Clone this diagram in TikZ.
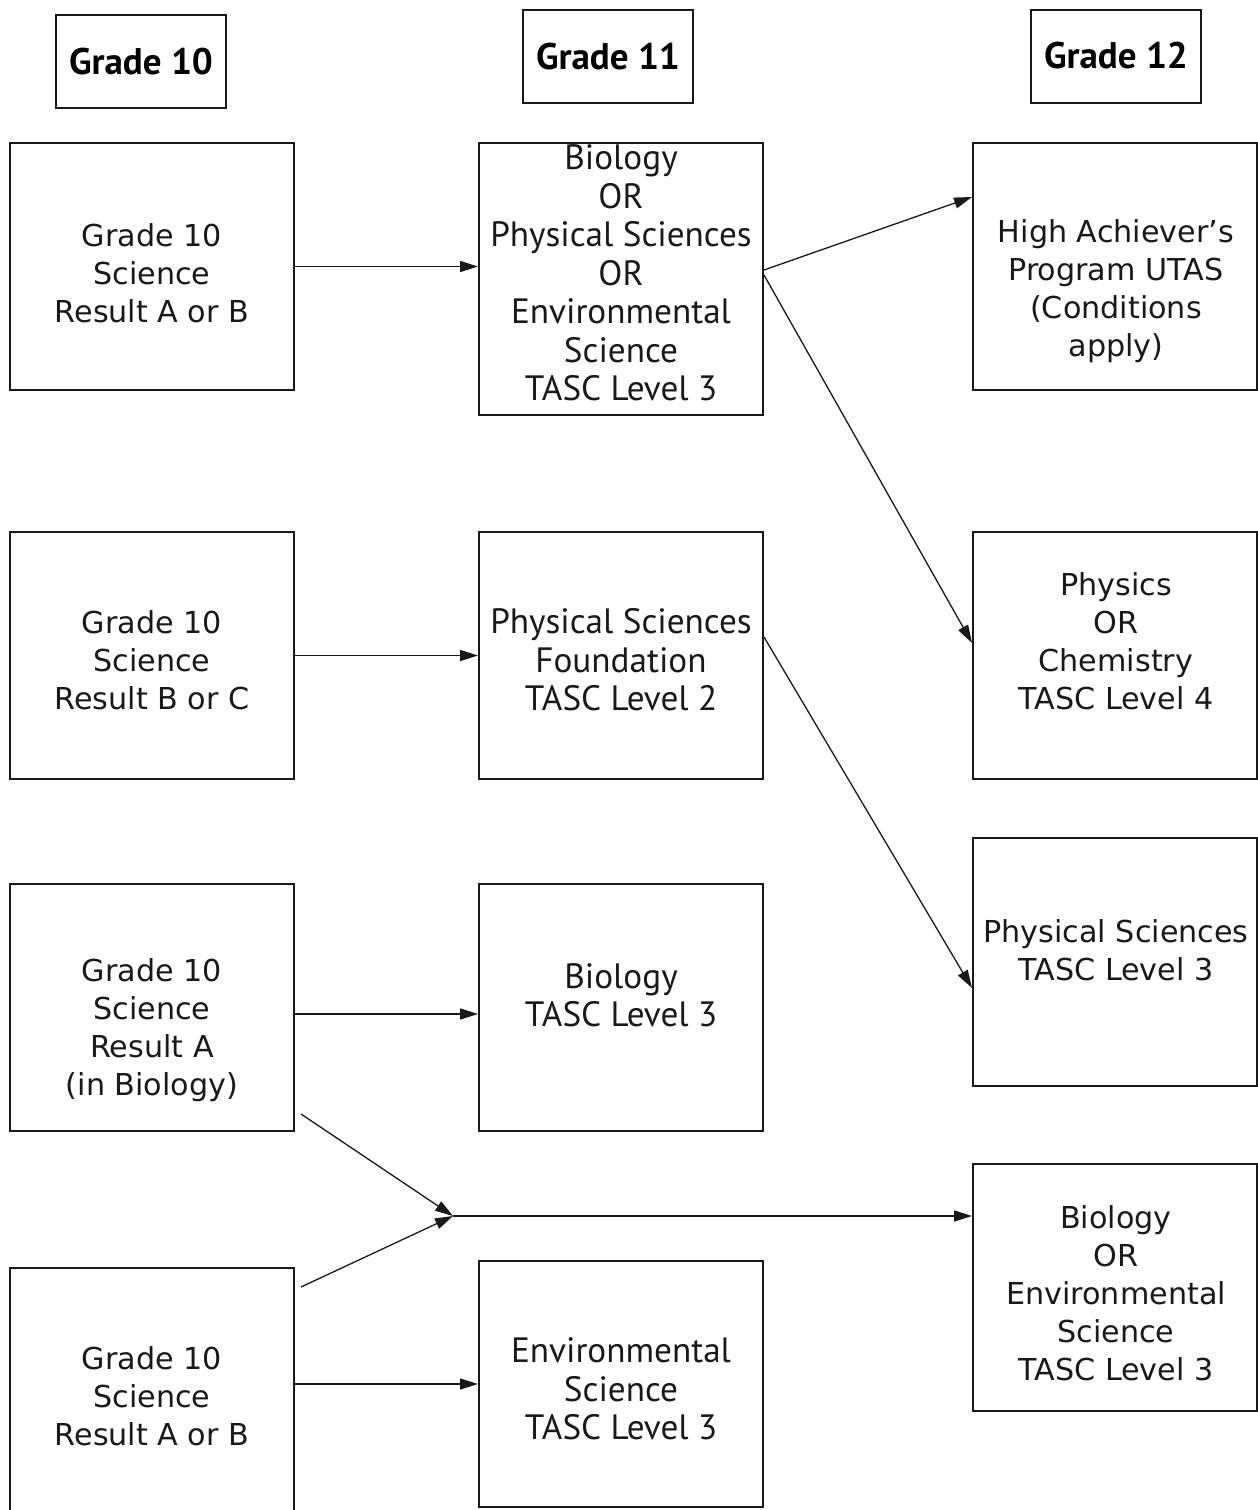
\documentclass[tikz,border=0pt]{standalone}
\usepackage{fontspec}
\setmainfont{DejaVu Sans}
\newfontfamily\condfont{PT Sans}
\usetikzlibrary{arrows.meta,calc}
\begin{document}
\begin{tikzpicture}[x=0.5pt,y=-0.5pt,
  box/.style={draw=black!90,line width=1pt,minimum width=142pt,minimum height=123.5pt,inner sep=0pt},
  hbox/.style={draw=black!90,line width=1pt,minimum width=85pt,minimum height=46.5pt,inner sep=0pt,
     font=\condfont\bfseries\fontsize{18.5}{22}\selectfont},
  widetxt/.style={align=center,inner sep=0pt,font=\fontsize{15.1}{19}\selectfont,text=black!90},
  condtxt/.style={align=center,inner sep=0pt,font=\condfont\fontsize{17.6}{19.25}\selectfont,text=black!90},
  conn/.style={line width=0.8pt,draw=black!90,-{Triangle[length=9pt,width=5.5pt]}},
  diag/.style={line width=0.65pt,draw=black!90,-{Triangle[length=9pt,width=5.5pt]}}]
\useasboundingbox (0,0) rectangle (1258,1510);
% headers
\node[hbox] (h10) at (141,61.5) {Grade 10};
\node[hbox] (h11) at (608,56.5) {Grade 11};
\node[hbox] (h12) at (1116,56) {Grade 12};
% left column
\node[box] (L1) at (152,266.5) {};
\node[box] (L2) at (152,655.5) {};
\node[box] (L3) at (152,1007.5) {};
\node[box] (L4) at (152,1391.5) {};
% middle column
\node[box,minimum height=136pt] (M1) at (621,279) {};
\node[box] (M2) at (621,655.5) {};
\node[box] (M3) at (621,1007.5) {};
\node[box,minimum height=123pt] (M4) at (621,1384) {};
% right column
\node[box] (R1) at (1115,266.5) {};
\node[box] (R2) at (1115,655.5) {};
\node[box,minimum height=124pt] (R3) at (1115,962) {};
\node[box] (R4) at (1115,1287.5) {};
% texts
\node[widetxt] (L1t) at (152,273) {Grade 10\\Science\\Result A or B};
\node[widetxt] (L2t) at (152,660) {Grade 10\\Science\\Result B or C};
\node[widetxt] (L3t) at (152,1030) {Grade 10\\Science\\Result A\\(in Biology)};
\node[widetxt] (L4t) at (152,1396) {Grade 10\\Science\\Result A or B};
\node[condtxt] (M1t) at (621,273) {Biology\\OR\\Physical Sciences\\OR\\Environmental\\Science\\TASC Level 3};
\node[condtxt] (M2t) at (621,660) {Physical Sciences\\Foundation\\TASC Level 2};
\node[condtxt] (M3t) at (621,995) {Biology\\TASC Level 3};
\node[condtxt] (M4t) at (621,1389) {Environmental\\Science\\TASC Level 3};
\node[widetxt] (R1t) at (1116,291) {High Achiever’s\\Program UTAS\\(Conditions\\apply)};
\node[widetxt] (R2t) at (1116,641) {Physics\\OR\\Chemistry\\TASC Level 4};
\node[widetxt] (R3t) at (1116,950) {Physical Sciences\\TASC Level 3};
\node[widetxt] (R4t) at (1116,1293) {Biology\\OR\\Environmental\\Science\\TASC Level 3};
% junction
\coordinate (J) at (453,1216);
% connectors
\draw[conn] (L1.east) -- (L1.east -| M1.west);
\draw[diag] ([yshift=4.5pt]M1.east) -- ([yshift=34.75pt]R1.west);
\draw[diag] ([yshift=2pt]M1.east) -- ([yshift=6.25pt]R2.west);
\draw[conn] (L2.east) -- (L2.east -| M2.west);
\draw[diag] ([yshift=9.25pt]M2.east) -- ([yshift=-13pt]R3.west);
\draw[conn] ([yshift=-3.25pt]L3.east) -- ([yshift=-3.25pt]L3.east -| M3.west);
\draw[conn] (M4.west -| L4.east) -- (M4.west);
\draw[diag] ([shift={(3pt,9pt)}]L3.south east) -- (J);
\draw[diag] ([shift={(3pt,-10pt)}]L4.north east) -- (J);
\draw[conn] (J) -- (J -| R4.west);
\end{tikzpicture}
\end{document}
